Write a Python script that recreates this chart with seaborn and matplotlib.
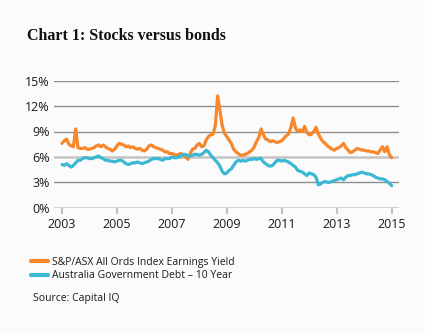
import numpy as np
import pandas as pd
import matplotlib
matplotlib.use("Agg")
import matplotlib.pyplot as plt
from matplotlib.lines import Line2D
import seaborn as sns

# ---------------- data (monthly, Jan 2003 .. Jan 2015) ----------------
earnings_yield = [
    7.6, 7.9, 8.1, 7.5, 7.3, 7.2, 9.3, 7.1, 7.0, 7.0, 7.1, 6.9,   # 2003
    6.9, 7.0, 7.1, 7.3, 7.4, 7.2, 7.4, 7.2, 7.0, 6.9, 6.7, 6.9,   # 2004
    7.3, 7.6, 7.5, 7.4, 7.2, 7.3, 7.1, 7.2, 7.0, 6.9, 7.0, 6.8,   # 2005
    6.7, 6.9, 7.3, 7.4, 7.2, 7.1, 7.0, 6.9, 6.8, 6.6, 6.6, 6.4,   # 2006
    6.4, 6.3, 6.2, 6.3, 6.4, 6.2, 6.0, 5.7, 6.4, 6.9, 7.0, 7.4,   # 2007
    7.6, 7.2, 7.3, 8.0, 8.4, 8.6, 8.7, 9.7, 13.2, 11.5, 9.7, 8.8, # 2008
    8.4, 8.0, 7.6, 6.9, 6.6, 6.4, 6.2, 6.2, 6.3, 6.4, 6.6, 6.8,   # 2009
    7.2, 7.8, 8.3, 9.3, 8.6, 8.1, 8.0, 7.8, 7.9, 7.8, 7.7, 7.8,   # 2010
    7.9, 8.2, 8.5, 8.7, 9.5, 10.6, 9.4, 9.0, 9.2, 9.0, 9.6, 8.9,  # 2011
    8.6, 8.7, 9.0, 9.5, 8.7, 8.2, 7.8, 7.6, 7.3, 7.1, 6.9, 6.8,   # 2012
    7.0, 7.1, 7.3, 7.6, 7.1, 6.8, 6.5, 6.6, 6.8, 7.0, 6.9, 6.8,   # 2013
    6.8, 6.7, 6.7, 6.6, 6.6, 6.5, 6.4, 6.8, 7.2, 6.6, 7.2, 6.3,   # 2014
    5.9,                                                          # 2015
]
bond_yield = [
    5.1, 5.0, 5.2, 5.0, 4.8, 5.0, 5.3, 5.6, 5.6, 5.8, 5.9, 5.9,   # 2003
    5.8, 5.8, 5.9, 6.0, 6.1, 5.9, 5.8, 5.6, 5.6, 5.5, 5.5, 5.4,   # 2004
    5.5, 5.6, 5.6, 5.4, 5.2, 5.1, 5.2, 5.3, 5.3, 5.4, 5.3, 5.2,   # 2005
    5.3, 5.4, 5.5, 5.7, 5.8, 5.8, 5.8, 5.7, 5.6, 5.8, 5.8, 5.8,   # 2006
    6.0, 5.9, 5.9, 6.0, 6.1, 6.3, 6.3, 6.1, 6.1, 6.2, 6.3, 6.3,   # 2007
    6.2, 6.3, 6.5, 6.8, 6.6, 6.2, 5.9, 5.6, 5.3, 4.9, 4.3, 4.0,   # 2008
    4.1, 4.4, 4.6, 5.0, 5.4, 5.6, 5.5, 5.6, 5.5, 5.6, 5.7, 5.7,   # 2009
    5.8, 5.7, 5.8, 5.8, 5.4, 5.2, 5.0, 4.9, 5.0, 5.3, 5.6, 5.6,   # 2010
    5.5, 5.6, 5.5, 5.4, 5.2, 5.0, 4.8, 4.4, 4.3, 4.2, 4.0, 3.8,   # 2011
    4.1, 4.0, 3.9, 3.6, 2.7, 2.8, 3.0, 3.1, 3.0, 3.0, 3.1, 3.2,   # 2012
    3.3, 3.4, 3.5, 3.3, 3.6, 3.8, 3.8, 3.9, 3.9, 4.0, 4.1, 4.2,   # 2013
    4.1, 4.0, 4.0, 3.9, 3.8, 3.6, 3.5, 3.4, 3.4, 3.3, 3.1, 2.9,   # 2014
    2.6,                                                          # 2015
]
series_names = ["S&P/ASX All Ords Index Earnings Yield",
                "Australia Government Debt \u2013 10 Year"]
series_colors = ["#F7872A", "#3BB8D3"]
y_ticks = [0, 3, 6, 9, 12, 15]
x_ticks = [2003, 2005, 2007, 2009, 2011, 2013, 2015]
title = "Chart 1: Stocks versus bonds"
source = "Source: Capital IQ"

# decimal-year positions of the monthly observations
t = np.array([2003 + i / 12 for i in range(len(earnings_yield))])

df = pd.concat([
    pd.DataFrame({"year": t, "value": earnings_yield, "series": series_names[0]}),
    pd.DataFrame({"year": t, "value": bond_yield, "series": series_names[1]}),
])

# ---------------- figure ----------------
sns.set_theme(style="white")
plt.rcParams["font.family"] = ["Open Sans", "DejaVu Sans"]
bg = "#FBFBFB"
fig = plt.figure(figsize=(4.25, 3.34), dpi=100, facecolor=bg)
ax = fig.add_axes([54 / 425, 1 - 207.7 / 334, 345 / 425, 127 / 334])
ax.set_facecolor(bg)

# gridlines
for v in y_ticks:
    if v in (0, 6):
        ax.axhline(v, color="#C4C4C4", lw=1.8, zorder=1)
    else:
        ax.axhline(v, color="#8E8E8E", lw=1.0, zorder=1)

sns.lineplot(data=df, x="year", y="value", hue="series",
             palette=dict(zip(series_names, series_colors)),
             hue_order=series_names, linewidth=2.3, legend=False,
             ax=ax, zorder=3)

ax.set_xlim(2002.71, 2015.27)
ax.set_ylim(0, 15)
ax.set_yticks(y_ticks)
ax.set_yticklabels([f"{v}%" for v in y_ticks])
ax.set_xticks(x_ticks)
ax.set_xticklabels([str(x) for x in x_ticks])
ax.set_xlabel("")
ax.set_ylabel("")
for s in ax.spines.values():
    s.set_visible(False)
ax.tick_params(axis="y", length=0, pad=3, labelsize=9, labelcolor="#1a1a1a")
ax.tick_params(axis="x", length=4, width=1.5, color="#C4C4C4", pad=3.5,
               labelsize=9, labelcolor="#1a1a1a", bottom=True)

# title
fig.text(27 / 425, 1 - 36.5 / 334, title, family="Liberation Serif",
         weight="bold", fontsize=11.5, color="#111111", va="center", ha="left")

# legend
handles = [Line2D([], [], color=c, lw=3) for c in series_colors]
fig.legend(handles, series_names, loc="upper left",
           bbox_to_anchor=(31 / 425, 1 - 256.5 / 334), frameon=False,
           fontsize=7.5, handlelength=1.65, handletextpad=0.35,
           labelspacing=0.28, borderpad=0, borderaxespad=0,
           labelcolor="#1a1a1a")

fig.text(33 / 425, 1 - 299 / 334, source, fontsize=7.5, color="#1a1a1a",
         va="center", ha="left")

fig.savefig("out.png", dpi=100, facecolor=bg)
